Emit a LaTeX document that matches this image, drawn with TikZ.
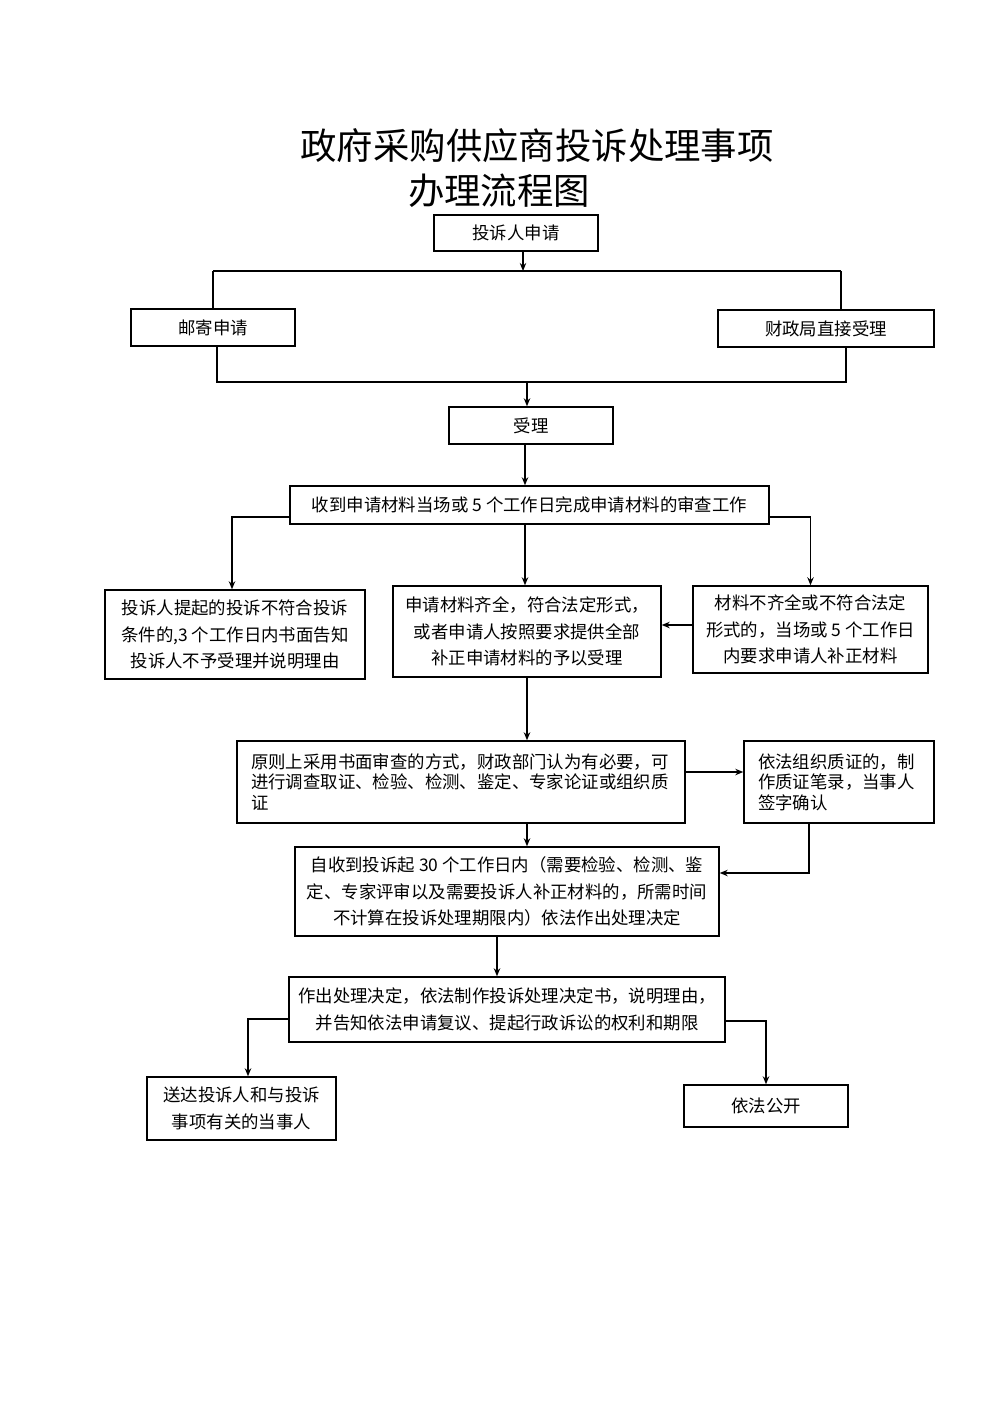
\documentclass[tikz,border=0pt]{standalone}
\usepackage{fontspec}
\setmainfont{Noto Sans CJK SC}
\usetikzlibrary{arrows.meta}
\begin{document}
\begin{tikzpicture}[x={(0.5pt,0)},y={(0,-0.5pt)},
  box/.style={draw,line width=0.7pt,inner sep=0pt,align=center,
    font=\fontsize{8.7pt}{13.2pt}\selectfont},
  ttl/.style={inner sep=0pt,font=\fontsize{18.2pt}{22pt}\selectfont},
  ln/.style={line width=0.7pt},
  arr/.style={line width=0.7pt,-{Stealth[length=4pt,width=3.2pt]}}]
\useasboundingbox (0,0) rectangle (1000,1415);
\fill[white] (0,0) rectangle (1000,1415);
% titles
\node[ttl] (title1) at (537,146) {政府采购供应商投诉处理事项};
\node[ttl] (title2) at (499,191) {办理流程图};
% boxes
\node[box,minimum width=82pt,minimum height=18pt] (apply) at (516,233) {投诉人申请};
\node[box,minimum width=82pt,minimum height=18.5pt] (mail) at (213,327.5) {邮寄申请};
\node[box,minimum width=108pt,minimum height=18.5pt] (direct) at (826,328.5) {财政局直接受理};
\node[box,minimum width=82pt,minimum height=18.5pt] (accept) at (531,425.5) {受理};
\node[box,minimum width=239.5pt,minimum height=19pt] (review) at (529.5,505) {收到申请材料当场或 5 个工作日完成申请材料的审查工作};
\node[box,minimum width=130pt,minimum height=44.5pt] (reject) at (235,634.5) {投诉人提起的投诉不符合投诉\\条件的,3 个工作日内书面告知\\投诉人不予受理并说明理由};
\node[box,minimum width=134pt,minimum height=45.5pt] (ok) at (527,631.5) {申请材料齐全，符合法定形式，\\或者申请人按照要求提供全部\\补正申请材料的予以受理};
\node[box,minimum width=117.5pt,minimum height=43.5pt] (supp) at (810.5,629.5) {材料不齐全或不符合法定\\形式的，当场或 5 个工作日\\内要求申请人补正材料};
\node[box,minimum width=224pt,minimum height=41pt,align=left,text width=210pt,inner xsep=7pt,
  font=\fontsize{8.7pt}{10.3pt}\selectfont] (principle) at (461,782) {原则上采用书面审查的方式，财政部门认为有必要，可\\进行调查取证、检验、检测、鉴定、专家论证或组织质\\证\\[2pt]};
\node[box,minimum width=95pt,minimum height=41pt,align=left,text width=81pt,inner xsep=7pt,
  font=\fontsize{8.7pt}{10.3pt}\selectfont] (confront) at (839,782) {依法组织质证的，制\\作质证笔录，当事人\\签字确认\\[2pt]};
\node[box,minimum width=212pt,minimum height=44.5pt] (decide) at (507,891.5) {自收到投诉起 30 个工作日内（需要检验、检测、鉴\\定、专家评审以及需要投诉人补正材料的，所需时间\\不计算在投诉处理期限内）依法作出处理决定};
\node[box,minimum width=218pt,minimum height=32.5pt] (doc) at (507,1009.5) {作出处理决定，依法制作投诉处理决定书，说明理由，\\并告知依法申请复议、提起行政诉讼的权利和期限};
\node[box,minimum width=94.5pt,minimum height=31.5pt] (deliver) at (241.5,1108.5) {送达投诉人和与投诉\\事项有关的当事人};
\node[box,minimum width=82pt,minimum height=21pt] (public) at (766,1106) {依法公开};
% helper coordinates
\coordinate (t1) at (523,271);
\coordinate (tl) at (213,271);
\coordinate (tr) at (841,271);
\coordinate (bl) at (217,382);
\coordinate (br) at (846,382);
\coordinate (b1) at (527,382);
\coordinate (x525) at (525,0);
\coordinate (rl) at (232,517);
\coordinate (sp) at (0,625);
\coordinate (pc) at (0,772);
\coordinate (cd) at (809,873);
\coordinate (x497) at (497,0);
\coordinate (dl) at (248,1019);
\coordinate (dr) at (0,1021);
% connectors
\draw[arr] (apply.south -| t1) -- (t1);
\draw[ln] (tl) -- (tr);
\draw[ln] (tl) -- (mail.north -| tl);
\draw[ln] (tr) -- (direct.north -| tr);
\draw[ln] (mail.south -| bl) -- (bl) -- (br) -- (direct.south -| br);
\draw[arr] (b1) -- (accept.north -| b1);
\draw[arr] (accept.south -| x525) -- (review.north -| x525);
\draw[arr] (review.west |- rl) -| (reject.north -| rl);
\draw[arr] (review.south -| x525) -- (ok.north -| x525);
\draw[arr] (review.east |- rl) -| (supp.north);
\draw[arr] (supp.west |- sp) -- (ok.east |- sp);
\draw[arr] (ok.south) -- (principle.north -| ok.south);
\draw[arr] (principle.east |- pc) -- (confront.west |- pc);
\draw[arr] (principle.south -| ok.south) -- (decide.north -| ok.south);
\draw[arr] (confront.south -| cd) -- (cd) -- (decide.east |- cd);
\draw[arr] (decide.south -| x497) -- (doc.north -| x497);
\draw[arr] (doc.west |- dl) -| (deliver.north -| dl);
\draw[arr] (doc.east |- dr) -| (public.north);
\end{tikzpicture}
\end{document}
